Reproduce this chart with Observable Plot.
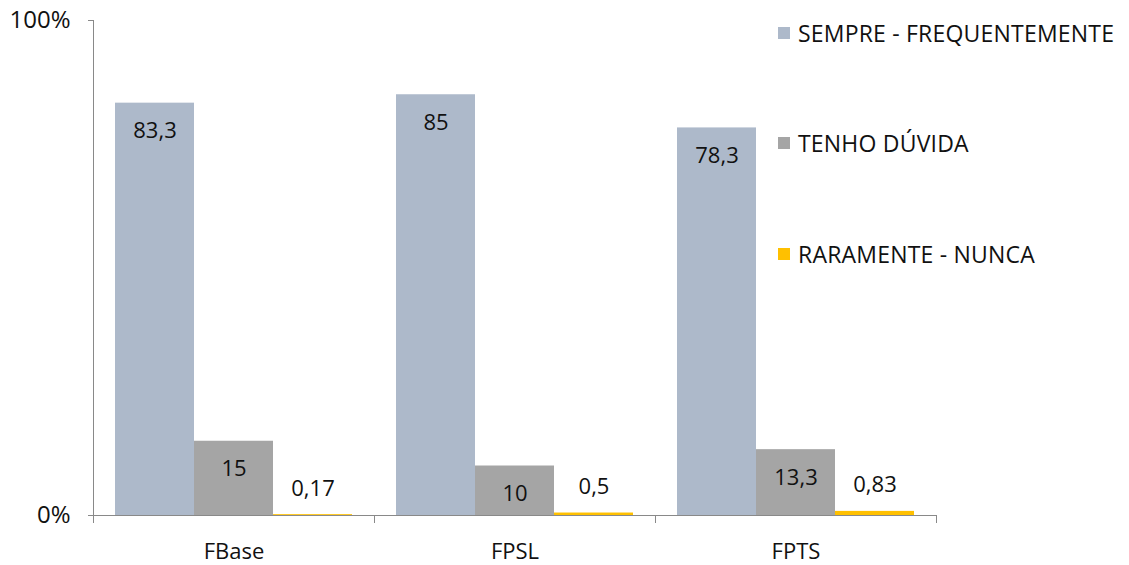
<!DOCTYPE html>
<html><head><meta charset="utf-8">
<script src="https://cdn.jsdelivr.net/npm/d3@7"></script>
<script src="https://cdn.jsdelivr.net/npm/@observablehq/plot@0.6"></script>
<style>
body{margin:0;background:#fff;font-family:"Open Sans",sans-serif}
#wrap{position:relative;width:1129px;height:565px;overflow:hidden}
.item{position:absolute;left:778px;height:26px;white-space:nowrap;display:flex;align-items:center;font-size:23px;letter-spacing:0.2px;color:#111}
.sw{width:12px;height:12px;margin-right:8px;flex:none}
</style></head><body><div id="wrap"></div>
<script>
const categories = ["FBase", "FPSL", "FPTS"];
const seriesNames = ["SEMPRE - FREQUENTEMENTE", "TENHO DÚVIDA", "RARAMENTE - NUNCA"];
const seriesColors = ["#ADB9CA", "#A5A5A5", "#FFC000"];
const sempre = [83.3, 85, 78.3];
const tenho = [15, 10, 13.3];
const raramente = [0.17, 0.5, 0.83];
const yTicks = [0, 100];
const legendRowsCenter = [33, 143, 254];

const seriesValues = [sempre, tenho, raramente];
const rows = [];
categories.forEach((c, i) => seriesNames.forEach((s, j) => rows.push({category: c, series: s, value: seriesValues[j][i]})));
const fmt = v => String(v).replace(".", ",");

const axisColor = "#898989";
const plot = Plot.plot({
  width: 1129, height: 565,
  marginLeft: 93, marginRight: 193, marginTop: 20, marginBottom: 50,
  style: {fontFamily: "Open Sans", fontSize: "22px", color: "#111", background: "#fff"},
  fx: {domain: categories, padding: 0, label: null},
  x: {domain: seriesNames, paddingInner: 0, paddingOuter: 0.26, axis: null},
  y: {domain: [0, 100], axis: null},
  color: {domain: seriesNames, range: seriesColors},
  marks: [
    Plot.barY(rows, {fx: "category", x: "series", y: "value", fill: "series"}),
    Plot.text(rows.filter(d => d.value >= 5), {fx: "category", x: "series", y: "value", text: d => fmt(d.value), dy: 28, fill: "#111"}),
    Plot.text(rows.filter(d => d.value < 5), {fx: "category", x: "series", y: "value", text: d => fmt(d.value), dy: -26, fill: "#111"}),
    Plot.ruleY([0], {stroke: axisColor}),
    Plot.axisY(yTicks, {tickSize: 5, tickPadding: 18, tickFormat: d => d + "%", stroke: axisColor, label: null, fontSize: 24}),
    Plot.axisFx({anchor: "bottom", tickSize: 0, tickPadding: 28, label: null})
  ]
});

const wrap = document.getElementById("wrap");
wrap.appendChild(plot);

// axis line and category boundary ticks from the plot's own scales
const fxS = plot.scale("fx"), yS = plot.scale("y");
const band = d3.scaleBand().domain(fxS.domain).range(fxS.range)
  .paddingInner(fxS.paddingInner ?? 0).paddingOuter(fxS.paddingOuter ?? 0);
const ys = d3.scaleLinear().domain(yS.domain).range(yS.range);
const svg = d3.select(plot.tagName.toLowerCase() === "svg" ? plot : plot.querySelector("svg"));
const g = svg.append("g").attr("stroke", axisColor).attr("stroke-width", 1);
const x0 = band(categories[0]);
g.append("line").attr("x1", x0 + 0.5).attr("x2", x0 + 0.5).attr("y1", ys(100)).attr("y2", ys(0));
const bounds = categories.map(c => band(c)).concat([band(categories[categories.length - 1]) + band.bandwidth()]);
bounds.forEach(b => g.append("line").attr("x1", b + 0.5).attr("x2", b + 0.5).attr("y1", ys(0)).attr("y2", ys(0) + 8));

seriesNames.forEach((s, i) => {
  const it = document.createElement("div");
  it.className = "item";
  it.style.top = (legendRowsCenter[i] - 13) + "px";
  it.innerHTML = `<span class="sw" style="background:${seriesColors[i]}"></span><span>${s}</span>`;
  wrap.appendChild(it);
});
</script>
</body></html>
